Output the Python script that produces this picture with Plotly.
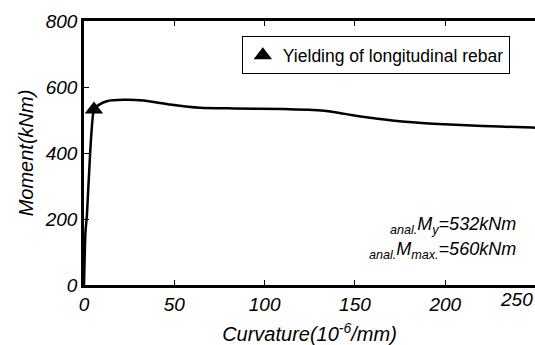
import plotly.graph_objects as go

# Data
curvature = [0, 0.8, 1.6, 3.4, 5.5, 8.0, 12.6, 21.9, 33.0, 47.7, 64.3, 82.8, 110.5, 124.3,
             133.0, 140.0, 148.0, 156.3, 174.7, 193.1, 211.6, 230.0, 248.5, 252.0]
moment = [0, 160, 210, 400, 532, 545, 557, 561, 559, 547, 537, 535, 533, 531,
          528, 523, 515, 508, 496, 489, 484, 480, 477, 476]
yield_x = [5.5]
yield_y = [532]
xticks = [0, 50, 100, 150, 200, 250]
yticks = [0, 200, 400, 600, 800]
legend_label = "Yielding of longitudinal rebar"
note_lines = ["<sub>anal.</sub>M<sub>y</sub>=532kNm", "<sub>anal.</sub>M<sub>max.</sub>=560kNm"]

FONT = "Liberation Sans, Arial, sans-serif"

fig = go.Figure()
fig.add_trace(go.Scatter(x=curvature, y=moment, mode="lines",
                         line=dict(color="black", width=2.5, shape="spline", smoothing=0.5),
                         showlegend=False, hoverinfo="skip"))
fig.add_trace(go.Scatter(x=yield_x, y=yield_y, mode="markers", name=legend_label,
                         marker=dict(symbol="triangle-up", size=16, color="black")))

xmax = 249.7
shown_xticks = [t for t in xticks if t <= xmax]
fig.update_xaxes(range=[0, xmax], tickvals=shown_xticks, ticktext=[str(t) for t in shown_xticks],
                 ticks="inside", ticklen=5, tickwidth=1, tickcolor="black",
                 showline=True, linewidth=2.5, linecolor="black", mirror="ticks",
                 showgrid=False, zeroline=False,
                 tickfont=dict(family=FONT, size=19, color="black", style="italic"),
                 title=dict(text="Curvature(10<sup>-6</sup>/mm)", standoff=14,
                            font=dict(family=FONT, size=20, color="black", style="italic")))
fig.update_yaxes(range=[0, 800], tickvals=yticks, ticks="inside", ticklen=5, tickwidth=1,
                 tickcolor="black", showline=True, linewidth=2.5, linecolor="black",
                 showgrid=False, zeroline=False,
                 tickfont=dict(family=FONT, size=19, color="black", style="italic"),
                 title=dict(text="Moment(kNm)", standoff=6,
                            font=dict(family=FONT, size=20, color="black", style="italic")))

# 250 tick label: its tick falls just outside the cropped plot area
for t in xticks:
    if t > xmax:
        fig.add_annotation(x=1.0, xref="paper", y=0, yref="paper", yanchor="top", xanchor="right",
                           yshift=-2, text=str(t), showarrow=False,
                           font=dict(family=FONT, size=19, color="black", style="italic"))

for i, txt in enumerate(note_lines):
    fig.add_annotation(x=0.962, xref="paper", y=[0.227, 0.129][i], yref="paper",
                       xanchor="right", yanchor="middle", text=txt, showarrow=False,
                       font=dict(family=FONT, size=18, color="black", style="italic"))

fig.update_layout(width=535, height=345, margin=dict(l=84, r=0, t=21, b=60),
                  plot_bgcolor="white", paper_bgcolor="white",
                  legend=dict(x=0.35, y=0.942, xanchor="left", yanchor="top",
                              bordercolor="black", borderwidth=1, bgcolor="white",
                              font=dict(family=FONT, size=17.5, color="black")))

fig.write_html("out.html")
